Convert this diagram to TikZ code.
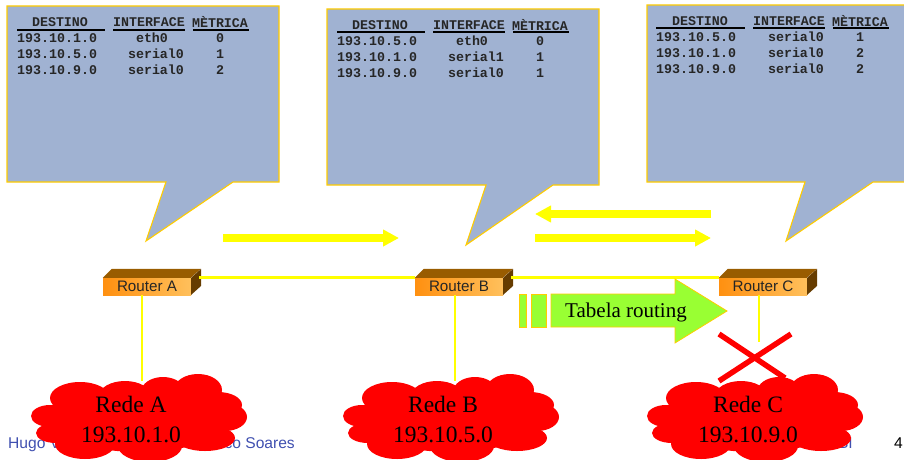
\documentclass[tikz,border=0pt]{standalone}
\usepackage{fontspec}
\setmainfont{Liberation Serif}
\setsansfont{Liberation Sans}
\setmonofont{Liberation Mono}
\usetikzlibrary{arrows.meta}
\definecolor{calloutblue}{HTML}{A0B2D2}
\definecolor{calloutgold}{HTML}{FFCC00}
\definecolor{routeyellow}{HTML}{FFFF00}
\definecolor{routergreen}{HTML}{99FF33}
\definecolor{footblue}{HTML}{4050B0}
\definecolor{routerfrontl}{HTML}{FF9010}
\definecolor{routerfrontr}{HTML}{FFC05C}
\definecolor{routertop}{HTML}{995C00}
\definecolor{routerside}{HTML}{663C00}
\tikzset{
  callout/.style={fill=calloutblue, draw=calloutgold, line width=1.1pt, line join=miter},
  tablehead/.style={font=\ttfamily\bfseries\fontsize{13.3}{14}\selectfont, text=black!85, inner sep=0pt},
  tablerow/.style={tablehead},
  tablerule/.style={line width=1.7pt, black},
  routerbox/.style={minimum width=88pt, minimum height=17pt, inner sep=0pt, left color=routerfrontl, right color=routerfrontr,
    font=\sffamily\fontsize{15.2}{16}\selectfont, text=black!85},
  yellowlink/.style={routeyellow, line width=2.8pt},
  updatearrow/.style={routeyellow, line width=8pt, -{Triangle[length=16pt,width=16pt]}},
  greenarrow/.style={fill=routergreen, draw=calloutgold, line width=.8pt},
  redecross/.style={red, line width=5.5pt},
  redetext/.style={font=\fontsize{23.5}{30}\selectfont, align=center, inner sep=0pt, minimum height=78pt},
  foottext/.style={font=\sffamily\fontsize{15.6}{16}\selectfont, text=footblue, inner sep=0pt},
  redecloud/.pic={
    \fill[red] (139,420) ellipse [x radius=88, y radius=32];
    \fill[red] (50,416) ellipse [x radius=19, y radius=11];
    \fill[red] (56,433) ellipse [x radius=20, y radius=10];
    \fill[red] (80,398) ellipse [x radius=30, y radius=16];
    \fill[red] (125,396) ellipse [x radius=26, y radius=15];
    \fill[red] (163,392) ellipse [x radius=22, y radius=15];
    \fill[red] (198,390) ellipse [x radius=24, y radius=16];
    \fill[red] (218,405) ellipse [x radius=24, y radius=13];
    \fill[red] (225,417) ellipse [x radius=22, y radius=14];
    \fill[red] (205,438) ellipse [x radius=30, y radius=13];
    \fill[red] (150,446) ellipse [x radius=32, y radius=16];
    \fill[red] (85,444) ellipse [x radius=30, y radius=15];
  }
}
\begin{document}
\begin{tikzpicture}[x=1pt, y=-1pt]
  \clip (0,0) rectangle (904,460);
  % footer, partly behind the clouds
  \node (foota) [foottext, anchor=base west] at (8,448) {Hugo V};
  \node (footb) [foottext, anchor=base east] at (295,448) {Vasco Soares};
  \node (footc) [foottext, anchor=base east] at (853,448) {UBI};
  \node (pagenum) [foottext, text=black, anchor=base east] at (903,448) {4};
  % callouts
  \draw[callout] (7,6) -- (279,6) -- (279,182) -- (233,182) -- (146,241) -- (166,182) -- (7,182) -- cycle;
  \draw[callout] (327,9) -- (599,9) -- (599,185) -- (553,185) -- (466,245) -- (486,185) -- (327,185) -- cycle;
  \draw[callout] (647,5) -- (910,5) -- (910,182) -- (873,182) -- (786,241) -- (805,182) -- (647,182) -- cycle;
  % router A table
  \node (ahdest) [tablehead] at (60,22) {DESTINO};
  \node (ahint) [tablehead] at (149,22) {INTERFACE};
  \node (ahmet) [tablehead] at (220,22) {MÈTRICA};
  \draw[tablerule] (17,30) -- (105,30);
  \draw[tablerule] (113,30) -- (185,30);
  \draw[tablerule] (193,30) -- (249,30);
  \node (a1dest) [tablerow, anchor=west] at (17,38) {193.10.1.0};
  \node (a1int) [tablerow] at (152,38) {eth0};
  \node (a1met) [tablerow] at (220,38) {0};
  \node (a2dest) [tablerow, anchor=west] at (17,54) {193.10.5.0};
  \node (a2int) [tablerow] at (156,54) {serial0};
  \node (a2met) [tablerow] at (220,54) {1};
  \node (a3dest) [tablerow, anchor=west] at (17,70) {193.10.9.0};
  \node (a3int) [tablerow] at (156,70) {serial0};
  \node (a3met) [tablerow] at (220,70) {2};
  % router B table
  \node (bhdest) [tablehead] at (380,25) {DESTINO};
  \node (bhint) [tablehead] at (469,25) {INTERFACE};
  \node (bhmet) [tablehead] at (540,25) {MÈTRICA};
  \draw[tablerule] (337,32) -- (425,32);
  \draw[tablerule] (433,32) -- (505,32);
  \draw[tablerule] (513,32) -- (569,32);
  \node (b1dest) [tablerow, anchor=west] at (337,41) {193.10.5.0};
  \node (b1int) [tablerow] at (472,41) {eth0};
  \node (b1met) [tablerow] at (540,41) {0};
  \node (b2dest) [tablerow, anchor=west] at (337,57) {193.10.1.0};
  \node (b2int) [tablerow] at (476,57) {serial1};
  \node (b2met) [tablerow] at (540,57) {1};
  \node (b3dest) [tablerow, anchor=west] at (337,73) {193.10.9.0};
  \node (b3int) [tablerow] at (476,73) {serial0};
  \node (b3met) [tablerow] at (540,73) {1};
  % router C table
  \node (chdest) [tablehead] at (700,21) {DESTINO};
  \node (chint) [tablehead] at (789,21) {INTERFACE};
  \node (chmet) [tablehead] at (860,21) {MÈTRICA};
  \draw[tablerule] (656,28) -- (745,28);
  \draw[tablerule] (753,28) -- (825,28);
  \draw[tablerule] (833,28) -- (889,28);
  \node (c1dest) [tablerow, anchor=west] at (656,37) {193.10.5.0};
  \node (c1int) [tablerow] at (796,37) {serial0};
  \node (c1met) [tablerow] at (860,37) {1};
  \node (c2dest) [tablerow, anchor=west] at (656,53) {193.10.1.0};
  \node (c2int) [tablerow] at (796,53) {serial0};
  \node (c2met) [tablerow] at (860,53) {2};
  \node (c3dest) [tablerow, anchor=west] at (656,69) {193.10.9.0};
  \node (c3int) [tablerow] at (796,69) {serial0};
  \node (c3met) [tablerow] at (860,69) {2};
  % updates
  \coordinate (upastart) at (223,238);
  \coordinate (upaend) at (399,238);
  \coordinate (upbstart) at (711,214);
  \coordinate (upbend) at (535,214);
  \coordinate (upcstart) at (535,238);
  \coordinate (upcend) at (711,238);
  \draw[updatearrow] (upastart) -- (upaend);
  \draw[updatearrow] (upbstart) -- (upbend);
  \draw[updatearrow] (upcstart) -- (upcend);
  % routers
  \node (routerA) [routerbox] at (147,286.5) {Router A};
  \node (routerB) [routerbox] at (459,286.5) {Router B};
  \node (routerC) [routerbox] at (763,286.5) {Router C};
  \fill[routertop] (routerA.north west) -- ++(9,-9) -- ++(89,0) -- ++(-10,9) -- cycle;
  \fill[routerside] (routerA.north east) -- ++(10,-9) -- ++(0,17) -- ++(-10,9) -- cycle;
  \fill[routertop] (routerB.north west) -- ++(9,-9) -- ++(89,0) -- ++(-10,9) -- cycle;
  \fill[routerside] (routerB.north east) -- ++(10,-9) -- ++(0,17) -- ++(-10,9) -- cycle;
  \fill[routertop] (routerC.north west) -- ++(9,-9) -- ++(89,0) -- ++(-10,9) -- cycle;
  \fill[routerside] (routerC.north east) -- ++(10,-9) -- ++(0,17) -- ++(-10,9) -- cycle;
  % networks text comes last, names are needed for the links
  \node (redeA) [redetext] at (131,420) {};
  \node (redeB) [redetext] at (443,420) {};
  \node (redeC) [redetext] at (748,420) {};
  \coordinate (breakC) at (759,342);
  \draw[yellowlink] ([xshift=8pt]routerA.north east) -- (routerB.north west);
  \draw[yellowlink] ([xshift=8pt]routerB.north east) -- (routerC.north west);
  \draw[yellowlink] ([xshift=-5pt]routerA.south) -- ([xshift=11pt]redeA.north);
  \draw[yellowlink] ([xshift=-4pt]routerB.south) -- ([xshift=12pt]redeB.north);
  \draw[yellowlink] ([xshift=-4pt]routerC.south) -- (breakC);
  % tabela routing arrow
  \draw[greenarrow] (519,294) rectangle (526,327);
  \draw[greenarrow] (531,294) rectangle (546,327);
  \draw[greenarrow] (551,294) -- (675,294) -- (675,279) -- (727,311) -- (675,343) -- (675,327) -- (551,327) -- cycle;
  \node (tabela) [font=\fontsize{21}{22}\selectfont, inner sep=0pt] at (626,312) {Tabela routing};
  % broken link
  \draw[redecross] (719,334) -- (785,378);
  \draw[redecross] (791,334) -- (719,381);
  % networks
  \pic at (0,0) {redecloud};
  \pic at (312,0) {redecloud};
  \pic at (616,0) {redecloud};
  \node (labelA) [redetext] at (131,420) {Rede A\\193.10.1.0};
  \node (labelB) [redetext] at (443,420) {Rede B\\193.10.5.0};
  \node (labelC) [redetext] at (748,420) {Rede C\\193.10.9.0};
\end{tikzpicture}
\end{document}
